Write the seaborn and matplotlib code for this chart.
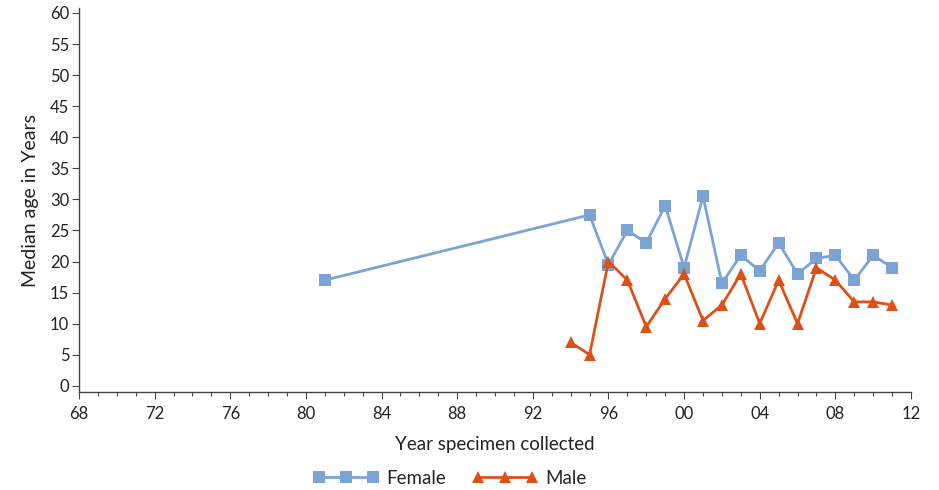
import matplotlib
matplotlib.use("Agg")
import matplotlib.pyplot as plt
import seaborn as sns
import pandas as pd
from matplotlib.ticker import MultipleLocator, FuncFormatter
from matplotlib.lines import Line2D

female_years = [1981, 1995, 1996, 1997, 1998, 1999, 2000, 2001, 2002, 2003, 2004, 2005, 2006, 2007, 2008, 2009, 2010, 2011]
female_ages = [17, 27.5, 19.5, 25, 23, 29, 19, 30.5, 16.5, 21, 18.5, 23, 18, 20.5, 21, 17, 21, 19]
male_years = [1994, 1995, 1996, 1997, 1998, 1999, 2000, 2001, 2002, 2003, 2004, 2005, 2006, 2007, 2008, 2009, 2010, 2011]
male_ages = [7, 5, 20, 17, 9.5, 14, 18, 10.5, 13, 18, 10, 17, 10, 19, 17, 13.5, 13.5, 13]

df = pd.concat([
    pd.DataFrame({"year": female_years, "age": female_ages, "sex": "Female"}),
    pd.DataFrame({"year": male_years, "age": male_ages, "sex": "Male"}),
])

sns.set_style("white")
plt.rcParams['font.family'] = ['Lato', 'DejaVu Sans']

fig = plt.figure(figsize=(9.39, 4.9), dpi=100)
ax = fig.add_axes([79/939, 1-392/490, (911-79)/939, (392-8)/490])

palette = {"Female": "#7BA3D3", "Male": "#DD5119"}
sns.lineplot(data=df, x="year", y="age", hue="sex", style="sex",
             markers={"Female": "s", "Male": "^"}, dashes=False,
             palette=palette, linewidth=2, markersize=8.5, markeredgewidth=0,
             ax=ax, legend=False)

ax.set_xlim(1968, 2012)
ax.set_ylim(-1, 60.8)
ax.xaxis.set_major_locator(MultipleLocator(4))
ax.xaxis.set_minor_locator(MultipleLocator(1))
ax.xaxis.set_major_formatter(FuncFormatter(lambda v, p: f"{int(round(v)) % 100:02d}"))
ax.set_yticks(range(0, 61, 5))

for s in ["top", "right"]:
    ax.spines[s].set_visible(False)
for s in ["left", "bottom"]:
    ax.spines[s].set_color("#444444")
    ax.spines[s].set_linewidth(1.0)

ax.tick_params(axis="both", which="major", direction="out", length=5, width=0.8,
               color="#444444", labelsize=12, labelcolor="#222222", bottom=True, left=True)
ax.tick_params(axis="x", which="minor", direction="out", length=3, width=0.8, color="#444444", bottom=True)
ax.tick_params(axis="x", pad=5)
ax.tick_params(axis="y", pad=2)

ax.set_xlabel("Year specimen collected", fontsize=13.5, color="#222222", labelpad=10)
ax.set_ylabel("Median age in Years", fontsize=14, color="#222222", labelpad=8)

handles = [
    Line2D([0], [0], color=palette["Female"], marker="s", markersize=8.5, markeredgewidth=0, linewidth=2),
    Line2D([0], [0], color=palette["Male"], marker="^", markersize=8.5, markeredgewidth=0, linewidth=2),
]
fig.legend(handles, ["Female", "Male"], loc="center", bbox_to_anchor=(0.479, 1-478/490),
           ncol=2, frameon=False, numpoints=3, fontsize=13.5, handlelength=3.5, columnspacing=1.4,
           handletextpad=0.4)

fig.savefig("out.png", dpi=100)
